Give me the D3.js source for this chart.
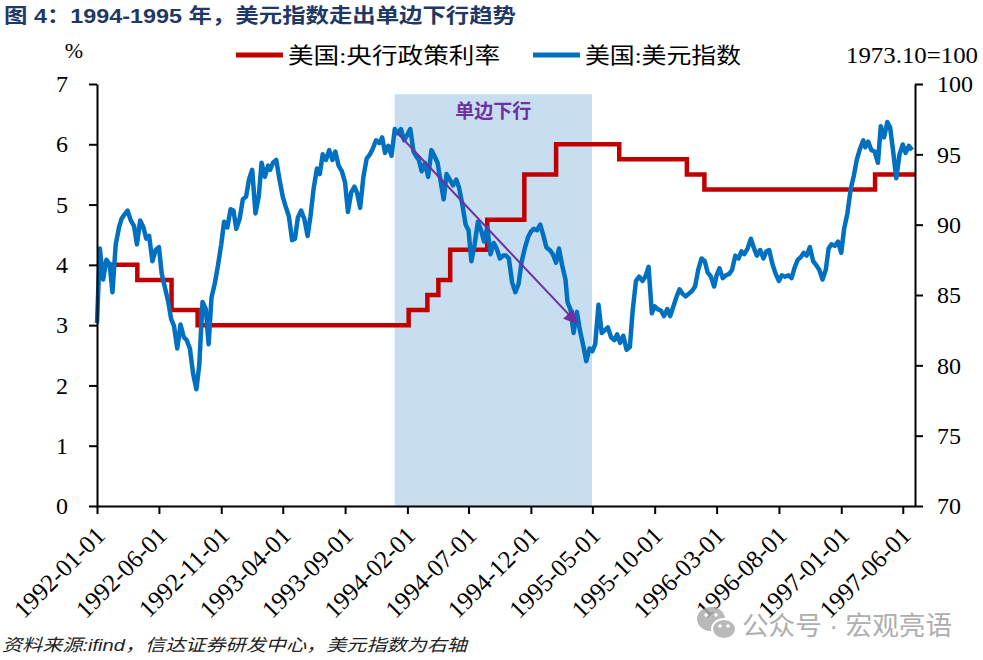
<!DOCTYPE html>
<html>
<head>
<meta charset="utf-8">
<script src="https://cdn.jsdelivr.net/npm/d3@7"></script>
<style>
body { margin: 0; background: #fff; }
svg { display: block; }
</style>
</head>
<body>
<svg width="983" height="660"></svg>
<script>
// 美国:央行政策利率 (%), 每次调整的日期与目标值
const rateDates = ["1992-01-01", "1992-04-09", "1992-07-02", "1992-09-04", "1994-02-04", "1994-03-22",
    "1994-04-18", "1994-05-17", "1994-08-16", "1994-11-15", "1995-02-01", "1995-07-06",
    "1995-12-19", "1996-01-31", "1997-03-25"];
const rateValues = [4.0, 3.75, 3.25, 3.0, 3.25, 3.5, 3.75, 4.25, 4.75, 5.5, 6.0, 5.75, 5.5, 5.25, 5.5];
const endDate = "1997-07-01";

// 美国:美元指数, 每月 1/8/16/24 日读数
const sampleDays = [1, 8, 16, 24];
const dxy1992 = [
    [83.0, 88.3, 86.1, 87.5], [87.2, 85.2, 88.6, 89.8], [90.4, 90.7, 91.0, 90.3], [89.9, 88.6, 90.3, 89.8],
    [89.0, 89.2, 87.4, 88.2], [88.4, 86.5, 85.5, 84.5], [83.3, 82.8, 81.2, 82.9], [82.0, 81.8, 81.2, 79.4],
    [78.3, 80.0, 84.5, 84.0], [81.5, 84.8, 85.8, 87.1], [88.6, 90.2, 89.8, 91.1], [91.0, 89.7, 90.4, 91.8]
];
const dxy1993 = [
    [92.0, 93.2, 93.9, 90.8], [92.0, 94.4, 93.4, 94.2], [93.9, 94.4, 94.6, 93.2], [92.0, 91.3, 90.6, 88.9],
    [89.0, 90.5, 91.0, 90.4], [89.2, 90.6, 92.6, 94.0], [93.6, 95.0, 94.6, 95.3], [94.6, 95.2, 94.2, 93.8],
    [93.0, 90.9, 92.3, 92.7], [92.2, 91.2, 93.4, 94.7], [95.0, 95.4, 96.0, 95.8], [96.2, 95.1, 95.6, 94.9]
];
const dxy1994 = [
    [96.8, 96.5, 96.8, 96.0], [96.4, 96.8, 95.2, 94.8], [94.6, 93.8, 94.4, 93.4], [95.3, 94.9, 94.4, 93.0],
    [91.8, 93.6, 93.2, 92.8], [93.2, 92.6, 91.4, 90.0], [89.6, 87.4, 88.6, 90.2], [89.6, 88.8, 89.8, 87.9],
    [88.7, 88.3, 87.6, 87.8], [87.8, 87.6, 85.9, 85.2], [85.8, 87.3, 88.3, 89.1], [89.5, 89.7, 89.6, 90.0]
];
const dxy1995 = [
    [89.2, 88.4, 88.2, 87.9], [87.3, 88.3, 87.1, 86.1], [84.5, 84.0, 82.3, 83.8], [82.4, 81.5, 80.3, 81.2],
    [81.0, 81.5, 84.3, 82.3], [82.5, 82.7, 82.0, 81.8], [82.2, 81.6, 82.1, 81.1], [81.3, 83.9, 86.0, 86.3],
    [86.0, 86.3, 87.0, 83.7], [84.2, 84.0, 83.9, 83.5], [84.0, 83.5, 84.2, 84.9], [85.4, 85.1, 84.9, 85.1]
];
const dxy1996 = [
    [85.3, 85.6, 86.8, 87.6], [87.4, 86.6, 86.3, 85.6], [86.4, 86.9, 86.2, 86.4], [86.5, 86.8, 87.8, 87.6],
    [88.1, 87.9, 88.3, 89.0], [88.3, 87.8, 88.2, 87.6], [88.1, 88.2, 87.2, 86.5], [86.0, 86.4, 86.3, 86.4],
    [86.2, 86.9, 87.5, 87.7], [88.0, 87.8, 88.4, 87.4], [87.1, 86.8, 86.1, 86.8], [88.3, 88.6, 88.5, 88.8]
];
const dxy1997 = [
    [88.0, 89.7, 90.8, 92.5], [93.5, 94.6, 95.4, 96.0], [95.5, 95.9, 95.3, 95.2], [94.4, 97.0, 96.2, 97.3],
    [96.9, 95.3, 93.3, 95.0], [95.7, 95.1, 95.6, 95.3]
];

const xTickLabels = ["1992-01-01", "1992-06-01", "1992-11-01", "1993-04-01", "1993-09-01", "1994-02-01",
    "1994-07-01", "1994-12-01", "1995-05-01", "1995-10-01", "1996-03-01", "1996-08-01", "1997-01-01", "1997-06-01"];
const leftTicks = [0, 1, 2, 3, 4, 5, 6, 7];
const rightTicks = [70, 75, 80, 85, 90, 95, 100];

const bandDates = ["1994-01-01", "1995-04-30"];
const bandTop = 6.83;
const arrowFrom = ["1994-01-08", 96.5];
const arrowTo = ["1995-03-24", 83.0];

const svg = d3.select("svg"),
    width = +svg.attr("width"),
    height = +svg.attr("height");

const margin = {top: 84, right: 68, bottom: 154, left: 97};
const parse = d3.utcParse("%Y-%m-%d");
const serif = "'Liberation Serif', 'Times New Roman', 'Noto Sans CJK SC', serif";
const cjk = "'Liberation Sans', 'Noto Sans CJK SC', sans-serif";

const x = d3.scaleUtc()
    .domain([parse("1992-01-01"), parse(endDate)])
    .range([margin.left, width - margin.right]);
const yLeft = d3.scaleLinear().domain([0, 7]).range([height - margin.bottom, margin.top]);
const yRight = d3.scaleLinear().domain([70, 100]).range([height - margin.bottom, margin.top]);

const dxy = [];
[[1992, dxy1992], [1993, dxy1993], [1994, dxy1994], [1995, dxy1995], [1996, dxy1996], [1997, dxy1997]]
    .forEach(function (row) {
        row[1].forEach(function (vals, m) {
            vals.forEach(function (v, i) {
                dxy.push({date: new Date(Date.UTC(row[0], m, sampleDays[i])), value: v});
            });
        });
    });

const rate = rateDates.map(function (d, i) {
    return {date: parse(d), value: rateValues[i]};
});
rate.push({date: parse(endDate), value: rateValues[rateValues.length - 1]});

// 阴影区间
svg.append("rect")
    .attr("x", x(parse(bandDates[0])))
    .attr("y", yLeft(bandTop))
    .attr("width", x(parse(bandDates[1])) - x(parse(bandDates[0])))
    .attr("height", yLeft(0) - yLeft(bandTop))
    .attr("fill", "#c7ddf0");

svg.append("path")
    .datum(rate)
    .attr("fill", "none")
    .attr("stroke", "#c00000")
    .attr("stroke-width", 4.5)
    .attr("d", d3.line()
        .curve(d3.curveStepAfter)
        .x(function (d) { return x(d.date); })
        .y(function (d) { return yLeft(d.value); }));

svg.append("path")
    .datum(dxy)
    .attr("fill", "none")
    .attr("stroke", "#0070c0")
    .attr("stroke-width", 4.5)
    .attr("stroke-linejoin", "round")
    .attr("d", d3.line()
        .x(function (d) { return x(d.date); })
        .y(function (d) { return yRight(d.value); }));

// 箭头
svg.append("defs").append("marker")
    .attr("id", "arrow")
    .attr("viewBox", "0 0 10 10")
    .attr("refX", 9)
    .attr("refY", 5)
    .attr("markerWidth", 8)
    .attr("markerHeight", 7)
    .attr("markerUnits", "strokeWidth")
    .attr("orient", "auto")
    .append("path")
    .attr("d", "M0,0L10,5L0,10z")
    .attr("fill", "#7030a0");

svg.append("line")
    .attr("x1", x(parse(arrowFrom[0])))
    .attr("y1", yRight(arrowFrom[1]))
    .attr("x2", x(parse(arrowTo[0])))
    .attr("y2", yRight(arrowTo[1]))
    .attr("stroke", "#7030a0")
    .attr("stroke-width", 2)
    .attr("marker-end", "url(#arrow)");

svg.append("text")
    .attr("x", (x(parse(bandDates[0])) + x(parse(bandDates[1]))) / 2)
    .attr("y", 118)
    .attr("text-anchor", "middle")
    .attr("font-family", cjk)
    .attr("font-weight", "bold")
    .attr("font-size", 19)
    .attr("fill", "#7030a0")
    .text("单边下行");

// 坐标轴
const axisLeft = svg.append("g")
    .attr("transform", "translate(" + margin.left + ",0)")
    .call(d3.axisLeft(yLeft).tickValues(leftTicks).tickFormat(d3.format("d"))
        .tickSize(8).tickSizeOuter(0).tickPadding(21));

const axisRight = svg.append("g")
    .attr("transform", "translate(" + (width - margin.right) + ",0)")
    .call(d3.axisRight(yRight).tickValues(rightTicks).tickSize(8).tickSizeOuter(0).tickPadding(14));

const axisBottom = svg.append("g")
    .attr("transform", "translate(0," + (height - margin.bottom) + ")")
    .call(d3.axisBottom(x).tickValues(xTickLabels.map(parse)).tickSize(8).tickSizeOuter(0));

[axisLeft, axisRight, axisBottom].forEach(function (g) {
    g.select(".domain").attr("stroke", "#000").attr("stroke-width", 2);
    g.selectAll(".tick line").attr("stroke", "#000").attr("stroke-width", 2);
    g.selectAll("text")
        .attr("font-family", serif)
        .attr("font-size", 24)
        .attr("fill", "#000");
});

axisBottom.selectAll(".tick text")
    .text(function (d, i) { return xTickLabels[i]; })
    .attr("text-anchor", "end")
    .attr("y", 0)
    .attr("dy", 0)
    .attr("font-size", 25)
    .attr("transform", "translate(9,31) rotate(-45)");

// 图例与单位
svg.append("text")
    .attr("x", 74)
    .attr("y", 58)
    .attr("text-anchor", "middle")
    .attr("font-family", serif)
    .attr("font-size", 22)
    .text("%");

svg.append("text")
    .attr("x", 978)
    .attr("y", 63)
    .attr("text-anchor", "end")
    .attr("font-family", serif)
    .attr("font-size", 23)
    .attr("textLength", 132)
    .attr("lengthAdjust", "spacingAndGlyphs")
    .text("1973.10=100");

const legendItems = [
    {label: "美国:央行政策利率", color: "#c00000", x: 236, w: 212},
    {label: "美国:美元指数", color: "#0070c0", x: 533, w: 156}
];

const legend = svg.selectAll("g.legend")
    .data(legendItems)
    .enter().append("g")
    .classed("legend", true)
    .attr("transform", function (d) { return "translate(" + d.x + ",55)"; });

legend.append("line")
    .attr("x1", 0)
    .attr("x2", 47)
    .attr("stroke", function (d) { return d.color; })
    .attr("stroke-width", 5);

legend.append("text")
    .attr("x", 52)
    .attr("y", 8)
    .attr("font-family", serif)
    .attr("font-size", 22)
    .attr("textLength", function (d) { return d.w; })
    .attr("lengthAdjust", "spacingAndGlyphs")
    .text(function (d) { return d.label; });

// 标题与来源
svg.append("text")
    .attr("x", 4)
    .attr("y", 23)
    .attr("font-family", cjk)
    .attr("font-weight", "bold")
    .attr("font-size", 20)
    .attr("fill", "#1f3864")
    .attr("textLength", 512)
    .attr("lengthAdjust", "spacingAndGlyphs")
    .text("图 4：1994-1995 年，美元指数走出单边下行趋势");

svg.append("text")
    .attr("x", 2)
    .attr("y", 651)
    .attr("font-family", cjk)
    .attr("font-style", "italic")
    .attr("font-size", 17)
    .attr("fill", "#222")
    .attr("textLength", 465)
    .attr("lengthAdjust", "spacingAndGlyphs")
    .text("资料来源:ifind，信达证券研发中心，美元指数为右轴");

// 水印
const mark = svg.append("g").attr("opacity", 0.85);
mark.append("ellipse").attr("cx", 711).attr("cy", 619).attr("rx", 14).attr("ry", 12).attr("fill", "#adadad");
mark.append("ellipse").attr("cx", 724).attr("cy", 629).attr("rx", 12).attr("ry", 10)
    .attr("fill", "#adadad").attr("stroke", "#fff").attr("stroke-width", 2);
mark.selectAll("circle.eye")
    .data([[706, 615], [716, 615], [720, 626], [728, 626]])
    .enter().append("circle")
    .attr("cx", function (d) { return d[0]; })
    .attr("cy", function (d) { return d[1]; })
    .attr("r", 1.8)
    .attr("fill", "#fff");
mark.append("text")
    .attr("x", 742)
    .attr("y", 635)
    .attr("font-family", cjk)
    .attr("font-size", 26)
    .attr("fill", "#a0a0a0")
    .attr("textLength", 210)
    .attr("lengthAdjust", "spacingAndGlyphs")
    .text("公众号 · 宏观亮语");
</script>
</body>
</html>
